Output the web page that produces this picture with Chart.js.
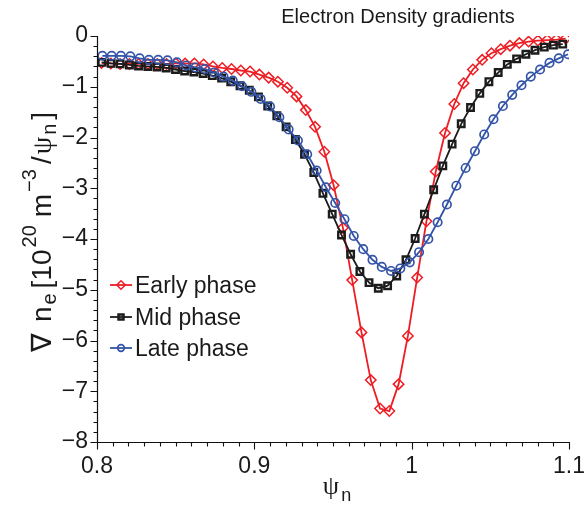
<!DOCTYPE html>
<html>
<head>
<meta charset="utf-8">
<script src="https://cdn.jsdelivr.net/npm/chart.js@4.4.0/dist/chart.umd.min.js"></script>
<style>
html,body{margin:0;padding:0;background:#fff;}
#wrap{width:586px;height:506px;position:relative;}
canvas{display:block;}
</style>
</head>
<body>
<div id="wrap"><canvas id="c" width="586" height="506"></canvas></div>
<script>
// ---------------- DATA ----------------
const chartTitle = 'Electron Density gradients';
const seriesNames = ['Early phase', 'Mid phase', 'Late phase'];

const xTickValues = [0.8, 0.9, 1.0, 1.1];
const xTickLabels = ['0.8', '0.9', '1', '1.1'];
const yTickValues = [0, -1, -2, -3, -4, -5, -6, -7, -8];
const yTickLabels = ['0', '\u22121', '\u22122', '\u22123', '\u22124', '\u22125', '\u22126', '\u22127', '\u22128'];

const psiEarly = [0.8029,0.8088,0.8147,0.8206,0.8265,0.8324,0.8383,0.8442,0.8501,0.8560,
  0.8619,0.8678,0.8737,0.8796,0.8855,0.8914,0.8973,0.9032,0.9091,0.9150,
  0.9209,0.9268,0.9327,0.9386,0.9445,0.9504,0.9563,0.9622,0.9681,0.9740,
  0.9799,0.9858,0.9917,0.9976,1.0035,1.0094,1.0153,1.0212,1.0271,1.0330,
  1.0389,1.0448,1.0507,1.0566,1.0625,1.0684,1.0743,1.0802,1.0861,1.0920,1.0979];
const gradEarly = [-0.53,-0.54,-0.55,-0.55,-0.55,-0.55,-0.55,-0.55,-0.54,-0.54,
  -0.54,-0.56,-0.60,-0.63,-0.65,-0.68,-0.70,-0.76,-0.82,-0.90,
  -1.02,-1.19,-1.46,-1.79,-2.28,-2.94,-3.78,-4.81,-5.84,-6.78,
  -7.34,-7.39,-6.86,-5.91,-4.76,-3.65,-2.67,-1.91,-1.34,-0.93,
  -0.66,-0.47,-0.34,-0.26,-0.19,-0.14,-0.11,-0.09,-0.08,-0.07,-0.05];

const psiMid = [0.8030,0.8089,0.8147,0.8206,0.8264,0.8323,0.8382,0.8440,0.8499,0.8557,
  0.8616,0.8675,0.8733,0.8792,0.8850,0.8909,0.8968,0.9026,0.9085,0.9143,
  0.9202,0.9261,0.9319,0.9378,0.9436,0.9495,0.9554,0.9612,0.9671,0.9729,
  0.9788,0.9847,0.9905,0.9964,1.0022,1.0081,1.0140,1.0198,1.0257,1.0315,
  1.0374,1.0433,1.0491,1.0550,1.0608,1.0667,1.0726,1.0784,1.0843,1.0901,1.0960];
const gradMid = [-0.52,-0.54,-0.55,-0.57,-0.59,-0.60,-0.61,-0.63,-0.66,-0.69,
  -0.71,-0.74,-0.78,-0.83,-0.90,-0.98,-1.07,-1.20,-1.38,-1.57,
  -1.79,-2.04,-2.33,-2.69,-3.10,-3.51,-3.92,-4.30,-4.64,-4.86,
  -4.97,-4.92,-4.73,-4.41,-3.99,-3.51,-3.03,-2.56,-2.13,-1.73,
  -1.41,-1.13,-0.90,-0.72,-0.56,-0.45,-0.36,-0.28,-0.22,-0.18,-0.16];

const psiLate = [0.8034,0.8093,0.8152,0.8212,0.8271,0.8330,0.8389,0.8448,0.8508,0.8567,
  0.8626,0.8685,0.8744,0.8804,0.8863,0.8922,0.8981,0.9040,0.9100,0.9159,
  0.9218,0.9277,0.9336,0.9396,0.9455,0.9514,0.9573,0.9632,0.9692,0.9751,
  0.9810,0.9869,0.9928,0.9988,1.0047,1.0106,1.0165,1.0224,1.0284,1.0343,
  1.0402,1.0461,1.0520,1.0580,1.0639,1.0698,1.0757,1.0816,1.0876,1.0935,1.0994];
const gradLate = [-0.39,-0.39,-0.39,-0.40,-0.44,-0.47,-0.47,-0.48,-0.52,-0.58,
  -0.62,-0.65,-0.72,-0.80,-0.88,-0.99,-1.10,-1.24,-1.39,-1.60,
  -1.84,-2.06,-2.33,-2.65,-2.98,-3.29,-3.61,-3.94,-4.20,-4.41,
  -4.55,-4.63,-4.58,-4.46,-4.26,-4.00,-3.67,-3.32,-2.95,-2.60,
  -2.27,-1.94,-1.64,-1.38,-1.16,-0.97,-0.80,-0.66,-0.53,-0.44,-0.36];

// ---------------- STYLE ----------------
const FONT = "'Liberation Sans', Arial, Helvetica, sans-serif";
const SERIF = "'Liberation Serif', 'DejaVu Serif', serif";
const TXT = '#1a1a1a';
const styles = [
  { color: '#EE1D24', pointStyle: 'rectRot', radius: 5.2, bw: 1.5, order: 3, legR: 4.2 },
  { color: '#1c1c1c', pointStyle: 'rect',    radius: 4.6, bw: 2.4, order: 2, legR: 3.6 },
  { color: '#3454A8', pointStyle: 'circle',  radius: 4.2, bw: 1.7, order: 1, legR: 3.3 }
];
const seriesX = [psiEarly, psiMid, psiLate];
const seriesY = [gradEarly, gradMid, gradLate];

const datasets = seriesNames.map((name, i) => ({
  label: name,
  data: seriesX[i].map((x, j) => ({ x: x, y: seriesY[i][j] })),
  showLine: true,
  tension: 0,
  borderColor: styles[i].color,
  borderWidth: 1.8,
  backgroundColor: 'rgba(0,0,0,0)',
  pointStyle: styles[i].pointStyle,
  pointRadius: styles[i].radius,
  pointBorderWidth: styles[i].bw,
  pointBorderColor: styles[i].color,
  pointBackgroundColor: 'rgba(0,0,0,0)',
  order: styles[i].order
}));

function drawRich(ctx, segs, x, y) {
  let cx = x;
  for (const s of segs) {
    ctx.font = s.font;
    ctx.fillText(s.t, cx, y + (s.dy || 0));
    cx += ctx.measureText(s.t).width + (s.gap || 0);
  }
  return cx - x;
}
function richWidth(ctx, segs) {
  let w = 0;
  for (const s of segs) { ctx.font = s.font; w += ctx.measureText(s.t).width + (s.gap || 0); }
  return w;
}

const decor = {
  id: 'decor',
  afterDraw(chart) {
    const ctx = chart.ctx;
    const a = chart.chartArea;
    const xs = chart.scales.x, ys = chart.scales.y;
    ctx.save();
    ctx.strokeStyle = '#111';
    ctx.lineWidth = 1.2;
    ctx.beginPath();
    const L = Math.round(a.left) + 0.5, B = Math.round(a.bottom) + 0.5;
    ctx.moveTo(L, Math.round(ys.getPixelForValue(0)));
    ctx.lineTo(L, B);
    ctx.lineTo(Math.round(xs.getPixelForValue(1.1)) + 1, B);
    ctx.stroke();
    ctx.lineWidth = 1.1;
    ctx.beginPath();
    for (let i = 0; i <= 30; i++) {
      const px = Math.round(xs.getPixelForValue(0.8 + i * 0.01)) + 0.5;
      const len = (i % 10 === 0) ? 7 : 4;
      ctx.moveTo(px, B); ctx.lineTo(px, B + len);
    }
    for (let i = 0; i <= 40; i++) {
      const py = Math.round(ys.getPixelForValue(-i * 0.2)) + 0.5;
      const len = (i % 5 === 0) ? 7 : 4;
      ctx.moveTo(L, py); ctx.lineTo(L - len, py);
    }
    ctx.stroke();

    ctx.fillStyle = TXT;
    ctx.font = '20px ' + FONT;
    ctx.textAlign = 'center';
    ctx.textBaseline = 'alphabetic';
    ctx.fillText(chartTitle, 398, 23);

    ctx.textAlign = 'left';
    const xSegs = [
      { t: '\u03C8', font: '26px ' + SERIF, gap: 2 },
      { t: 'n', font: '18px ' + FONT, dy: 7 }
    ];
    const xw = richWidth(ctx, xSegs);
    drawRich(ctx, xSegs, 337 - xw / 2, 494);

    const M = '28px ' + FONT, S = '20px ' + FONT;
    const ySegs = [
      { t: '\u2207', font: M, gap: 11 },
      { t: 'n', font: M, gap: 2 },
      { t: 'e', font: S, dy: 5, gap: 5 },
      { t: '[10', font: M, gap: 2 },
      { t: '20', font: S, dy: -15, gap: 8 },
      { t: 'm', font: M, gap: 2 },
      { t: '\u22123', font: S, dy: -15, gap: 5 },
      { t: '/', font: M, gap: 2 },
      { t: '\u03C8', font: '28px ' + SERIF, gap: 2 },
      { t: 'n', font: S, dy: 5, gap: 4 },
      { t: ']', font: M }
    ];
    const yw = richWidth(ctx, ySegs);
    ctx.save();
    ctx.translate(51, 232);
    ctx.rotate(-Math.PI / 2);
    drawRich(ctx, ySegs, -yw / 2, 0);
    ctx.restore();

    const rows = [285, 317, 348];
    for (let i = 0; i < 3; i++) {
      const st = styles[i];
      const yy = rows[i];
      ctx.strokeStyle = st.color;
      ctx.lineWidth = 1.8;
      ctx.beginPath();
      ctx.moveTo(110, yy); ctx.lineTo(132, yy);
      ctx.stroke();
      ctx.fillStyle = 'rgba(0,0,0,0)';
      ctx.lineWidth = st.bw;
      Chart.helpers.drawPoint(ctx, { pointStyle: st.pointStyle, radius: st.legR, borderWidth: st.bw, rotation: 0 }, 121, yy);
      ctx.fillStyle = TXT;
      ctx.font = '23px ' + FONT;
      ctx.textAlign = 'left';
      ctx.textBaseline = 'alphabetic';
      ctx.fillText(seriesNames[i], 135, yy + 8);
    }
    ctx.restore();
  }
};

new Chart(document.getElementById('c'), {
  type: 'scatter',
  data: { datasets: datasets },
  options: {
    responsive: false,
    animation: false,
    devicePixelRatio: 1,
    events: [],
    layout: { padding: { left: 0, right: 17, top: 36, bottom: 0 } },
    plugins: { legend: { display: false }, tooltip: { enabled: false }, title: { display: false } },
    scales: {
      x: {
        type: 'linear', min: 0.8, max: 1.1, position: 'bottom',
        afterBuildTicks: s => { s.ticks = xTickValues.map(v => ({ value: v })); },
        afterFit: s => { s.height = 64; s.paddingLeft = 0; s.paddingRight = 0; },
        grid: { display: false, drawTicks: false },
        border: { display: false },
        ticks: {
          callback: (v, i) => xTickLabels[i],
          font: { family: FONT, size: 23 }, color: TXT, padding: 11,
          maxRotation: 0, autoSkip: false
        }
      },
      y: {
        type: 'linear', min: -8, max: 0,
        afterBuildTicks: s => { s.ticks = yTickValues.map(v => ({ value: v })); },
        afterFit: s => { s.width = 97; s.paddingTop = 0; s.paddingBottom = 0; },
        grid: { display: false, drawTicks: false },
        border: { display: false },
        ticks: {
          callback: (v, i) => yTickLabels[i],
          font: { family: FONT, size: 23 }, color: TXT, padding: 9,
          autoSkip: false
        }
      }
    }
  },
  plugins: [decor]
});
</script>
</body>
</html>
